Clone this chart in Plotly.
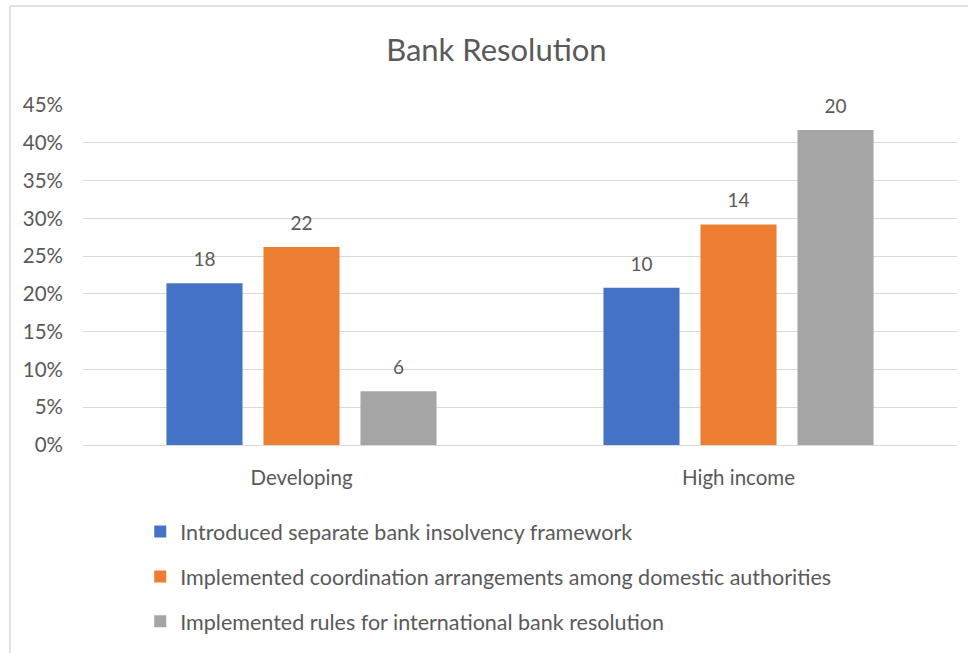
import plotly.graph_objects as go

# Country groups on the category axis
groups = ["Developing", "High income"]

# Reform types (one bar series each)
series_names = [
    "Introduced separate bank insolvency framework",
    "Implemented coordination arrangements among domestic authorities",
    "Implemented rules for international bank resolution",
]
series_colors = ["#4472C4", "#ED7D31", "#A5A5A5"]

# Share of economies in each group (percent), per reform type
share_insolvency = [21.4, 20.8]
share_coordination = [26.2, 29.2]
share_international = [7.1, 41.7]

# Number of economies, shown as bar labels
count_insolvency = [18, 10]
count_coordination = [22, 14]
count_international = [6, 20]

y_ticks = [0, 5, 10, 15, 20, 25, 30, 35, 40, 45]
y_tick_labels = [f"{v}%" for v in y_ticks]

shares = [share_insolvency, share_coordination, share_international]
counts = [count_insolvency, count_coordination, count_international]

FONT = "Lato"
TEXT = "#595959"
GAP = 0.334

fig = go.Figure()
for i, (name, color, vals) in enumerate(zip(series_names, series_colors, shares)):
    fig.add_trace(go.Bar(
        name=name,
        x=groups,
        y=vals,
        marker=dict(color=color, line=dict(width=0)),
        offsetgroup=f"s{i}",
        legendgroup=f"g{i}",
        hoverinfo="skip",
    ))

# Count labels: grouped text points sitting above each bar; an invisible
# marker pushes the label a little higher above the bar top
for i, (vals, cnts) in enumerate(zip(shares, counts)):
    fig.add_trace(go.Scatter(
        x=groups,
        y=vals,
        mode="markers+text",
        text=[str(c) for c in cnts],
        textposition="top center",
        textfont=dict(family=FONT, size=19, color=TEXT),
        marker=dict(size=18, opacity=0),
        offsetgroup=f"s{i}",
        cliponaxis=False,
        showlegend=False,
        hoverinfo="skip",
    ))

fig.update_layout(
    width=968,
    height=653,
    margin=dict(l=83, r=11, t=105, b=208),
    paper_bgcolor="white",
    plot_bgcolor="white",
    barmode="group",
    bargap=GAP,
    bargroupgap=0.216,
    scattermode="group",
    scattergap=GAP,
    title=dict(
        text="Bank Resolution",
        x=0.473, xanchor="center", xref="paper",
        y=1 - 50 / 653, yanchor="middle",
        font=dict(family=FONT, size=31, color=TEXT),
    ),
    font=dict(family=FONT, color=TEXT),
    showlegend=True,
    legend=dict(
        orientation="v",
        x=0.0655, xanchor="left",
        y=-0.194, yanchor="top",
        font=dict(family=FONT, size=21.5, color=TEXT),
        tracegroupgap=14,
        itemsizing="constant",
        bgcolor="rgba(0,0,0,0)",
    ),
)

fig.update_xaxes(
    showgrid=False,
    showline=True,
    linecolor="#D9D9D9",
    linewidth=1,
    ticks="",
    ticklabelstandoff=14,
    tickfont=dict(family=FONT, size=20.5, color=TEXT),
    fixedrange=True,
)
fig.update_yaxes(
    range=[0, 45],
    tickvals=y_ticks,
    ticktext=y_tick_labels,
    showgrid=True,
    gridcolor="#D9D9D9",
    gridwidth=1,
    zeroline=False,
    showline=False,
    ticks="",
    ticklabelstandoff=19,
    tickfont=dict(family=FONT, size=20.5, color=TEXT),
    fixedrange=True,
)

# Thin frame along the top and left edges of the chart area
fig.add_shape(type="line", xref="paper", yref="paper",
              x0=-73 / 874, x1=1 + 11 / 874, y0=1 + 99 / 340, y1=1 + 99 / 340,
              line=dict(color="#D9D9D9", width=1.5))
fig.add_shape(type="line", xref="paper", yref="paper",
              x0=-73 / 874, x1=-73 / 874, y0=1 + 99 / 340, y1=-208 / 340,
              line=dict(color="#D9D9D9", width=1.5))

fig.write_html("out.html")
